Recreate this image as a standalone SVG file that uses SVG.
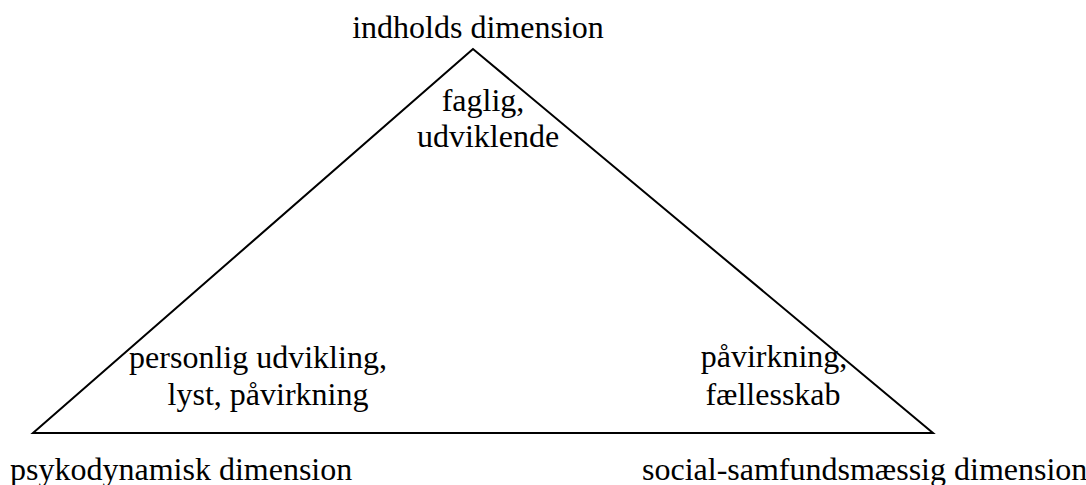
<svg xmlns="http://www.w3.org/2000/svg" width="1086" height="485" viewBox="0 0 1086 485">
<style>
text{font-family:"Liberation Serif","Times New Roman",serif;font-size:32px;fill:#000}
.l{fill:none;stroke:#000;stroke-width:2}
</style>
<rect width="1086" height="485" fill="#fff"/>
<g id="connectors">
<polygon class="l" points="473,49 33,433 933,433" stroke-linejoin="miter"/>
</g>
<g id="top">
<text x="478" y="38" text-anchor="middle">indholds dimension</text>
<text x="483" y="111" text-anchor="middle">faglig,</text>
<text x="488" y="147" text-anchor="middle">udviklende</text>
</g>
<g id="left">
<text x="258" y="368" text-anchor="middle">personlig udvikling,</text>
<text x="268" y="405" text-anchor="middle">lyst, påvirkning</text>
<text x="10" y="480">psykodynamisk dimension</text>
</g>
<g id="right">
<text x="774" y="367" text-anchor="middle">påvirkning,</text>
<text x="773" y="405" text-anchor="middle">fællesskab</text>
<text x="642" y="480">social-samfundsmæssig dimension</text>
</g>
</svg>
